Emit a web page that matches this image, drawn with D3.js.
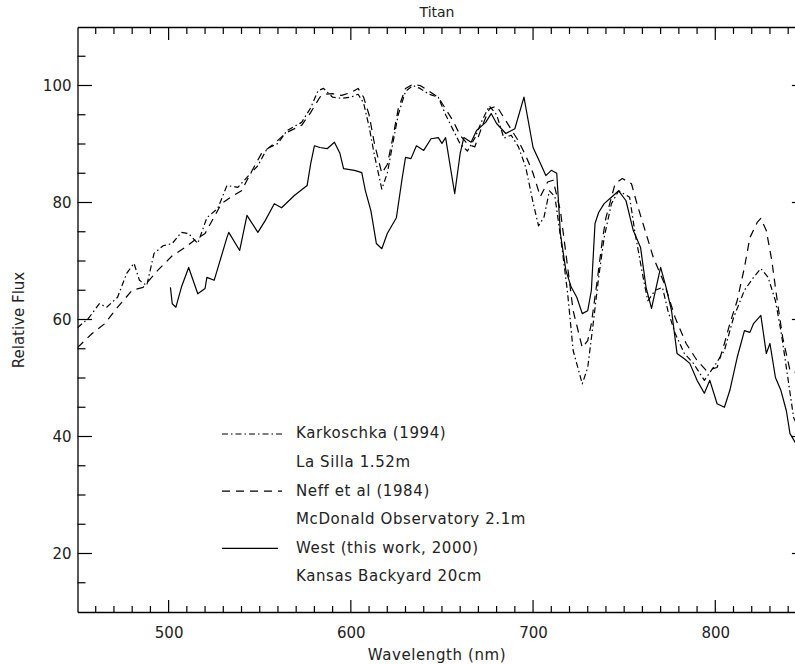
<!DOCTYPE html>
<html>
<head>
<meta charset="utf-8">
<script src="https://cdn.jsdelivr.net/npm/d3@7"></script>
<style>
  body { margin: 0; background: #fff; }
  text { font-family: "DejaVu Sans", "Liberation Sans", sans-serif; fill: #222; }
</style>
</head>
<body>
<svg id="chart" width="795" height="664"></svg>
<script>
// Karkoschka (1994), La Silla 1.52m
const karkWave = [450,456,462,466,472,477,481,484,488,492,497,502,507,511,516,521,527,532,538,543,549,554,560,565,573,578,582,585,590,595,600,604,607,610,613,617,620,623,626,630,634,638,643,648,652,656,660,664,668,672,676,680,684,688,692,696,700,703,706,709,712,716,719,722,727,730,733,736,739,743,747,753,756,761,763,767,771,774,778,783,788,794,799,805,810,816,821,825,829,833,836,839,843,848];
const karkFlux = [58.6,60.2,62.7,62.1,63.8,67.9,69.6,66.7,65.8,71.3,72.6,73,74.9,74.7,73,77.4,79,82.9,82.6,84.3,86.3,89.2,90.1,92.3,93.7,96.2,99.1,99.5,98,97.8,98,98.5,97,93,88,82.3,85,90,95,99,100,99.5,98.5,98,95,92.5,90,88.8,91,94,96.5,95,91,91.5,89.5,86,80,76,77.5,82,81,72,64.4,54.7,49,51.8,59.3,67.2,74,79.8,82,80.9,74.7,66.2,63.2,65,65.5,61.5,57.6,54.2,52.5,49.6,51.8,54.7,60.3,65,67.2,68.7,67.2,63.2,58.1,51.8,43.2,40];

// Neff et al (1984), McDonald Observatory 2.1m
const neffWave = [450,458,465,472,480,486,494,502,509,514,520,523,529,534,540,545,551,558,565,573,578,583,585,590,595,600,604,607,610,613,617,620,623,626,630,634,638,643,648,652,656,660,664,668,672,676,680,684,688,692,696,700,704,708,711,715,719,722,727,730,732,735,738,740,745,749,754,757,762,766,772,778,784,790,795,801,805,808,812,816,819,823,825,828,831,834,837,841,848];
const neffFlux = [55.2,57.6,59.3,62.1,65,65.5,68.4,70.9,72.3,73.5,74.7,76.4,79.8,80.9,82,85,88.4,90.1,92,93.2,95.4,98,98.5,98.6,98.3,98.8,99.5,98,95,90,85,86.5,91,96,99.5,100.2,100,99,98,96,94,91.5,90,89.5,93,96,96.5,94.5,92.5,90.5,88,85,81,83.5,83.8,78.6,68.9,61.5,55.2,56.4,59.3,66.2,73.5,77.4,83.2,84.1,83.2,79.8,74.7,70.6,66.2,60.3,55.9,53,51.3,51.8,55.9,59.3,63.2,68.9,74,76.6,77.3,75.2,70.1,63.2,56.9,51.3,50.5];

// West (this work, 2000), Kansas Backyard 20cm
const westWave = [501,502,504,507,511,516,520,521,525,532,533,539,543,549,553,558,562,569,576,578,580,583,587,591,594,596,602,606,608,611,614,617,620,625,628,630,633,636,640,644,648,650,652,657,660,662,666,669,674,677,680,685,690,695,700,704,707,710,713,715,718,721,724,727,730,732,734,736,739,743,747,751,755,759,762,765,770,773,776,779,783,786,790,794,797,801,805,808,812,816,819,821,825,828,830,833,836,839,841,845];
const westFlux = [65.5,62.7,62.1,65.5,68.9,64.4,65.3,67.2,66.7,74,74.9,71.8,77.8,74.9,76.9,79.8,79.1,81.2,82.9,86.7,89.7,89.4,89.2,90.3,88.4,85.8,85.5,85.1,82,78.6,73,72.1,74.7,77.4,83.8,87.7,87.5,89.7,88.9,90.9,91.1,90.1,91.1,81.5,88.4,91.1,90.3,92.3,93.7,95.2,93.5,91.8,92.6,98,89.4,86.7,84.6,85.5,85,74.7,68.4,65.5,63.8,61,61.5,65,76.4,78.3,79.8,80.9,82,80.3,75.2,72.3,65.5,61.9,68.9,65.5,61.5,54.2,53.3,52.5,49.6,47.4,49.6,45.6,45,47.9,53.5,58.1,57.8,59.3,60.7,54.2,55.9,50.1,47.9,44.4,40.5,38.4];

// Axis ticks
const xMajorTicks = [500, 600, 700, 800];
const yMajorTicks = [20, 40, 60, 80, 100];

// Legend entries
const legendNames = ["Karkoschka (1994)", "Neff et al (1984)", "West (this work, 2000)"];
const legendSites = ["La Silla 1.52m", "McDonald Observatory 2.1m", "Kansas Backyard 20cm"];

const svg = d3.select("#chart");
const plotLeft = 77.5, plotTop = 27, plotBottom = 612, plotRight = 806.4;

const x = d3.scaleLinear().domain([450, 850]).range([plotLeft, plotRight]);
const y = d3.scaleLinear().domain([10, 110]).range([plotBottom, plotTop]);

const xMinor = d3.range(460, 850, 10).filter(v => v % 100 !== 0);
const yMinor = d3.range(15, 110, 5).filter(v => v % 20 !== 0);

// Labels and frame lines from d3 axes
function labelAxis(axisFn, scale, values, transform, padding, labels) {
  const g = svg.append("g").attr("transform", transform)
    .call(axisFn(scale).tickValues(values).tickSize(0).tickPadding(padding)
      .tickFormat(labels ? d3.format("d") : () => ""));
  g.selectAll("path.domain").attr("stroke", "#000").attr("stroke-width", 1.3);
  g.selectAll(".tick text").attr("font-size", 15).attr("fill", "#222")
    .style("font-family", '"DejaVu Sans", sans-serif');
}
labelAxis(d3.axisBottom, x, xMajorTicks, `translate(0,${plotBottom})`, 15, true);
labelAxis(d3.axisTop, x, xMajorTicks, `translate(0,${plotTop})`, 3, false);
labelAxis(d3.axisLeft, y, yMajorTicks, `translate(${plotLeft},0)`, 6, true);
labelAxis(d3.axisRight, y, yMajorTicks, `translate(${plotRight},0)`, 3, false);

// Inward tick marks on all four sides
const tickG = svg.append("g").attr("stroke", "#000").attr("stroke-width", 1.2);
function xTicks(values, len) {
  tickG.selectAll(null).data(values).join("line")
    .attr("x1", d => x(d)).attr("x2", d => x(d))
    .attr("y1", plotBottom).attr("y2", plotBottom - len);
  tickG.selectAll(null).data(values).join("line")
    .attr("x1", d => x(d)).attr("x2", d => x(d))
    .attr("y1", plotTop).attr("y2", plotTop + len + 1);
}
function yTicks(values, len) {
  tickG.selectAll(null).data(values).join("line")
    .attr("y1", d => y(d)).attr("y2", d => y(d))
    .attr("x1", plotLeft).attr("x2", plotLeft + len);
  tickG.selectAll(null).data(values).join("line")
    .attr("y1", d => y(d)).attr("y2", d => y(d))
    .attr("x1", plotRight).attr("x2", plotRight - len);
}
xTicks(xMajorTicks, 12);
xTicks(xMinor, 6);
yTicks(yMajorTicks, 14.5);
yTicks(yMinor, 8);

// Spectra
svg.append("clipPath").attr("id", "plotClip")
  .append("rect").attr("x", plotLeft).attr("y", plotTop)
  .attr("width", plotRight - plotLeft).attr("height", plotBottom - plotTop);

const line = d3.line().x(d => x(d[0])).y(d => y(d[1]));
const series = [
  { wave: karkWave, flux: karkFlux, dash: "6,3,1.5,3" },
  { wave: neffWave, flux: neffFlux, dash: "8,6" },
  { wave: westWave, flux: westFlux, dash: null }
];
const plot = svg.append("g").attr("clip-path", "url(#plotClip)");
series.forEach(s => {
  plot.append("path")
    .datum(s.wave.map((w, i) => [w, s.flux[i]]))
    .attr("d", line)
    .attr("fill", "none")
    .attr("stroke", "#000")
    .attr("stroke-width", 1.2)
    .attr("stroke-linejoin", "round")
    .attr("stroke-dasharray", s.dash);
});

// Legend
const legendTop = 433, rowStep = 28.6;
series.forEach((s, i) => {
  const yy = legendTop + i * 2 * rowStep;
  svg.append("line")
    .attr("x1", 222).attr("x2", s.dash ? 282 : 278)
    .attr("y1", yy + 1).attr("y2", yy + 1)
    .attr("stroke", "#000").attr("stroke-width", 1.2)
    .attr("stroke-dasharray", s.dash);
  svg.append("text").attr("x", 296).attr("y", yy).attr("dy", "0.36em")
    .attr("font-size", 15).attr("letter-spacing", 0.6).text(legendNames[i]);
  svg.append("text").attr("x", 296).attr("y", yy + rowStep).attr("dy", "0.36em")
    .attr("font-size", 15).attr("letter-spacing", 0.6).text(legendSites[i]);
});

// Titles
svg.append("text").attr("x", 437).attr("y", 17).attr("text-anchor", "middle")
  .attr("font-size", 14).text("Titan");
svg.append("text").attr("x", 437).attr("y", 660).attr("text-anchor", "middle")
  .attr("font-size", 15).attr("letter-spacing", 0.6).text("Wavelength (nm)");
svg.append("text").attr("transform", "translate(24,320) rotate(-90)").attr("text-anchor", "middle")
  .attr("font-size", 15).text("Relative Flux");
</script>
</body>
</html>
